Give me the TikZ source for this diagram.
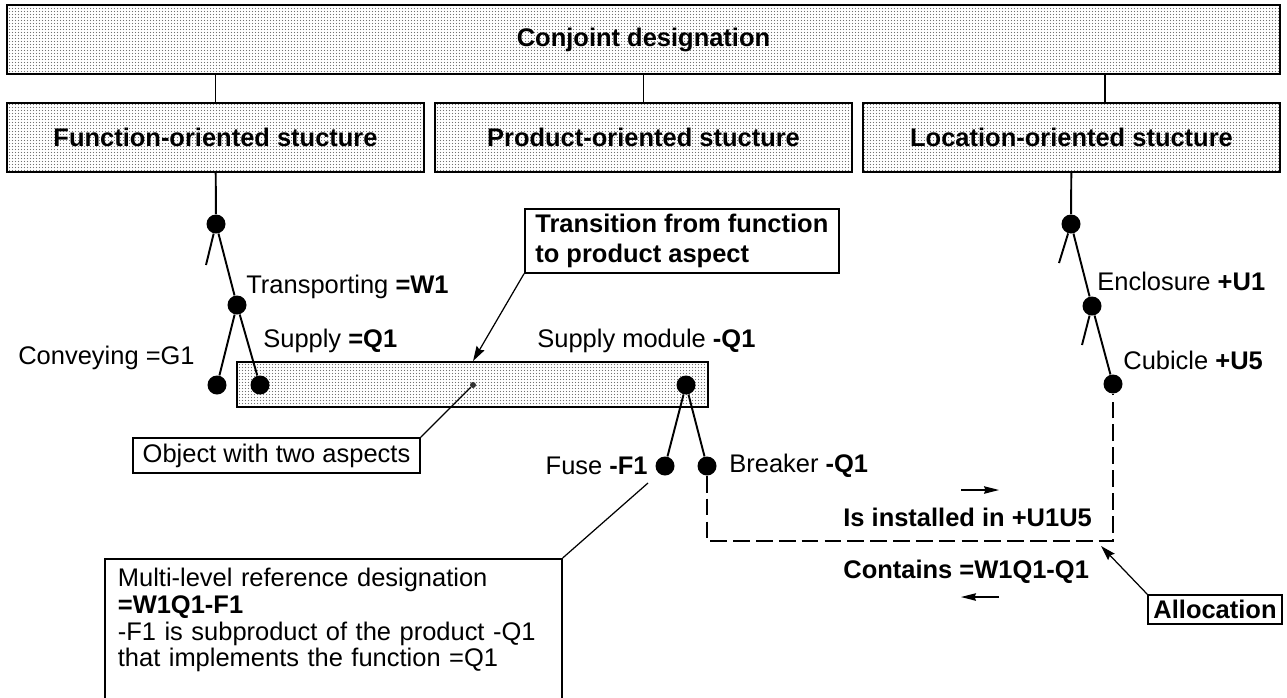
\documentclass[tikz,border=0pt]{standalone}
\usepackage{fontspec}
\setmainfont{Liberation Sans}
\usetikzlibrary{arrows.meta, positioning, patterns.meta, calc}
\newcommand{\diagfont}{\fontsize{14.5}{15.4}\selectfont}

\tikzdeclarepattern{
  name=speckle,
  type=uncolored,
  bounding box={(0,0) and (1.7pt,1.7pt)},
  tile size={(1.7pt,1.7pt)},
  code={\pgfpathcircle{\pgfpoint{0.85pt}{0.85pt}}{0.32pt}\pgfusepath{fill}}
}

\begin{document}
\begin{tikzpicture}[
  x=0.02cm, y=-0.02cm,
  every node/.style={font=\diagfont},
  header/.style={
    draw, line width=1.1pt, pattern=speckle, pattern color=black!55,
    minimum width=8.34cm, minimum height=1.38cm, inner sep=0,
    font=\diagfont\bfseries
  },
  aspectbox/.style={
    draw, line width=1.1pt, pattern=speckle, pattern color=black!55,
    minimum width=9.42cm, minimum height=0.9cm, inner sep=0
  },
  note/.style={draw, line width=1pt, fill=white, inner sep=0.08cm},
  obj/.style={circle, fill=black, inner sep=0, minimum size=0.38cm},
  lbl/.style={inner sep=0, anchor=west},
  treeline/.style={line width=1.1pt},
  pointer/.style={line width=0.7pt},
  flowarrow/.style={-{Stealth[length=3mm, width=1.8mm, inset=0.4mm]}, line width=0.7pt},
  dirarrow/.style={-{Stealth[length=3mm, width=1.5mm, inset=0.3mm]}, line width=0.7pt},
  alloclink/.style={line width=1.1pt, dash pattern=on 9.5pt off 3.5pt}
]
  \useasboundingbox (0,0) rectangle (1287,697);

  % Kopf und die drei Strukturen
  \node[header, minimum width=25.46cm] (conjoint) at (643.5,39.5) {Conjoint designation};
  \node[header] (funcstruct) at (215.5,137.5) {Function-oriented stucture};
  \node[header] (prodstruct) at (643.5,137.5) {Product-oriented stucture};
  \node[header] (locstruct) at (1071.5,137.5) {Location-oriented stucture};
  \coordinate (loclink) at ($(locstruct.north)+(33.5,0)$);

  \draw[treeline] (conjoint.south -| funcstruct) -- (funcstruct);
  \draw[treeline] (conjoint.south -| prodstruct) -- (prodstruct);
  \draw[treeline] (conjoint.south -| loclink) -- (loclink);

  % Objekt mit zwei Aspekten
  \node[aspectbox] (twoasp) at (472.5,384.5) {};
  \node[circle, fill=black!80, inner sep=0, minimum size=0.12cm] (aspdot) at (473,385) {};

  % Funktionsbaum
  \node[obj] (fn1) at (216,224) {};
  \node[obj] (fn2) at (237,305) {};
  \node[obj] (fg1) at (217,385) {};
  \node[obj] (fq1) at (260,385) {};
  \coordinate (fn1stub) at (206,265);

  \draw[treeline] (funcstruct) -- (fn1);
  \draw[treeline] (fn1) -- (fn1stub);
  \draw[treeline] (fn1) -- (fn2);
  \draw[treeline] (fn2) -- (fg1);
  \draw[treeline] (fn2) -- (fq1);

  \node[lbl] (fn2lbl) at (246,287) {Transporting \textbf{=W1}};
  \node[lbl] (fq1lbl) at (263,341) {Supply \textbf{=Q1}};
  \node[lbl] (fg1lbl) at (18,358) {Conveying =G1};

  % Produktbaum
  \node[obj] (pq1) at (686,385) {};
  \node[obj] (pf1) at (665,466) {};
  \node[obj] (pb1) at (707,466) {};

  \draw[treeline] (pq1) -- (pf1);
  \draw[treeline] (pq1) -- (pb1);

  \node[lbl] (pq1lbl) at (537,341) {Supply module \textbf{-Q1}};
  \node[lbl, anchor=east] (pf1lbl) at (648,466) {Fuse \textbf{-F1}};
  \node[lbl] (pb1lbl) at (729,466) {Breaker \textbf{-Q1}};

  % Ortsbaum
  \node[obj] (lc1) at (1071,224) {};
  \node[obj] (lc2) at (1092,306) {};
  \node[obj] (lc3) at (1113,384) {};
  \coordinate (lc1stub) at (1059,263);
  \coordinate (lc2stub) at (1082,345);

  \draw[treeline] (locstruct) -- (lc1);
  \draw[treeline] (lc1) -- (lc1stub);
  \draw[treeline] (lc1) -- (lc2);
  \draw[treeline] (lc2) -- (lc2stub);
  \draw[treeline] (lc2) -- (lc3);

  \node[lbl] (lc1lbl) at (1097,281) {Enclosure \textbf{+U1}};
  \node[lbl] (lc2lbl) at (1123,360) {Cubicle \textbf{+U5}};

  % Zuordnung Produkt <-> Ort
  \coordinate (alloccorner) at (1113,541);
  \draw[alloclink] (pb1) |- (alloccorner) -- (lc3);

  \node[lbl, font=\diagfont\bfseries] (instlbl) at (843,517) {Is installed in +U1U5};
  \node[lbl, font=\diagfont\bfseries] (contlbl) at (843,572) {Contains =W1Q1-Q1};
  \coordinate (instA) at (961,490);
  \coordinate (instB) at (999,490);
  \coordinate (contA) at (999,597);
  \coordinate (contB) at (961,597);
  \draw[dirarrow] (instA) -- (instB);
  \draw[dirarrow] (contA) -- (contB);

  % Hinweiskaesten
  \node[note, anchor=north west, minimum width=6.28cm, minimum height=1.28cm,
    align=left, font=\bfseries\fontsize{14.5}{17.6}\selectfont] (transnote) at (524,208)
    {\raisebox{-2pt}{Transition from function}\\\raisebox{-2pt}{to product aspect}};
  \draw[flowarrow] (transnote.south west) -- (twoasp.north -| aspdot);

  \node[note, minimum width=5.74cm, minimum height=0.7cm] (twonote) at (276.5,455.5)
    {Object with two aspects};
  \draw[pointer] (twonote.north east) -- (aspdot);

  \node[note, anchor=north west, text width=8.62cm, inner xsep=0.26cm, inner ysep=0.19cm,
    align=left, font=\fontsize{14.5}{15.2}\selectfont] (mlnote) at (104,558)
    {Multi-level reference designation\\
     \textbf{=W1Q1-F1}\\
     -F1 is subproduct of the product -Q1\\
     that implements the function =Q1\\[4pt]
     \mbox{}};
  \coordinate (fusetip) at (648,483);
  \draw[pointer] (mlnote.north east) -- (fusetip);

  \node[note, minimum width=2.68cm, minimum height=0.58cm, font=\diagfont\bfseries]
    (allocnote) at (1215,609.5) {Allocation};
  \coordinate (alloctip) at (1101,546);
  \draw[flowarrow] (allocnote.north west) -- (alloctip);
\end{tikzpicture}
\end{document}
